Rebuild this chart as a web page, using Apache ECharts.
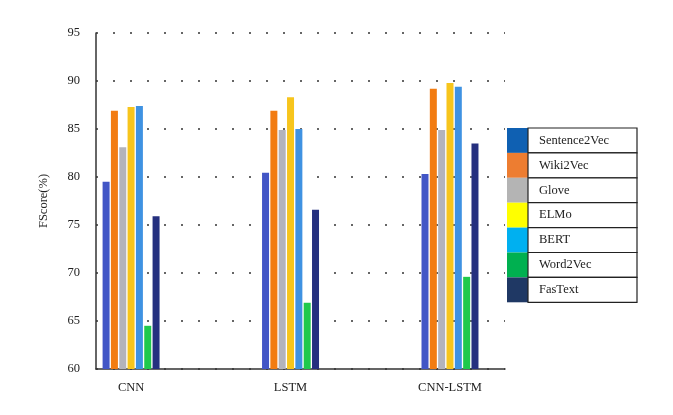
<!DOCTYPE html>
<html>
<head>
<meta charset="utf-8">
<script src="https://cdn.jsdelivr.net/npm/echarts@6/dist/echarts.min.js"></script>
<style>
	html, body { margin: 0; padding: 0; background: #fff; }
	#chart { width: 673px; height: 415px; }
</style>
</head>
<body>
<div id="chart"></div>
<script>
// categories and values
const models = ['CNN', 'LSTM', 'CNN-LSTM'];
const embeddings = ['Sentence2Vec', 'Wiki2Vec', 'Glove', 'ELMo', 'BERT', 'Word2Vec', 'FasText'];
const sentence2vec = [79.5, 80.45, 80.3];
const wiki2vec = [86.9, 86.9, 89.2];
const glove = [83.1, 84.9, 84.9];
const elmo = [87.3, 88.3, 89.8];
const bert = [87.4, 85.0, 89.4];
const word2vec = [64.5, 66.9, 69.6];
const fastext = [75.9, 76.6, 83.5];
const yTicks = [60, 65, 70, 75, 80, 85, 90, 95];

const seriesValues = [sentence2vec, wiki2vec, glove, elmo, bert, word2vec, fastext];
const barColors = ['#4256c6', '#f27c12', '#b3b3bb', '#f7c51c', '#3f92e2', '#1fc94c', '#25307f'];
const legendColors = ['#0f60b2', '#ed7d31', '#b4b4b4', '#ffff00', '#00b0f0', '#00b050', '#1f3864'];

const serif = 'Liberation Serif';

// legend drawn as a little table, like in the source figure
function buildLegend() {
	const items = [];
	const left = 507, top = 128, swW = 21, boxW = 109, rowH = 24.9;
	embeddings.forEach((name, i) => {
		const y = top + i * rowH;
		items.push({
			type: 'rect',
			shape: { x: left, y: y, width: swW, height: rowH },
			style: { fill: legendColors[i] },
		});
		items.push({
			type: 'rect',
			shape: { x: left + swW, y: y, width: boxW, height: rowH },
			style: { fill: '#fff', stroke: '#222', lineWidth: 1.2 },
		});
		items.push({
			type: 'text',
			x: left + swW + 11,
			y: y + rowH / 2,
			style: {
				text: name,
				fill: '#222',
				font: '12.5px "' + serif + '"',
				verticalAlign: 'middle',
			},
		});
	});
	return items;
}

const chart = echarts.init(document.getElementById('chart'), null, { renderer: 'canvas' });

const option = {
	backgroundColor: '#fff',
	animation: false,
	grid: { left: 96, right: 168, top: 33, bottom: 46 },
	xAxis: {
		type: 'value',
		min: -0.22,
		max: 2.345,
		axisLine: { show: true, onZero: false, lineStyle: { color: '#333', width: 1.5 } },
		axisTick: { show: false },
		splitLine: { show: false },
		axisLabel: {
			customValues: [0, 1, 2],
			formatter: (v) => models[Math.round(v)] || '',
			color: '#222',
			fontFamily: serif,
			fontSize: 12.5,
			margin: 12,
		},
	},
	yAxis: {
		type: 'value',
		min: yTicks[0],
		max: yTicks[yTicks.length - 1],
		interval: 5,
		name: 'FScore(%)',
		nameLocation: 'middle',
		nameGap: 46,
		nameTextStyle: { color: '#222', fontFamily: serif, fontSize: 12.5 },
		axisLine: { show: true, onZero: false, lineStyle: { color: '#333', width: 1.5 } },
		axisTick: { show: false },
		axisLabel: { color: '#222', fontFamily: serif, fontSize: 12.5, margin: 16 },
		splitLine: {
			show: true,
			lineStyle: { color: '#666', width: 2, type: [2, 15] },
		},
	},
	series: embeddings.map((name, i) => ({
		name: name,
		type: 'bar',
		barWidth: 7,
		barGap: '19%',
		itemStyle: { color: barColors[i] },
		data: seriesValues[i].map((v, j) => [j, v]),
	})),
	graphic: buildLegend(),
};

chart.setOption(option);
</script>
</body>
</html>
